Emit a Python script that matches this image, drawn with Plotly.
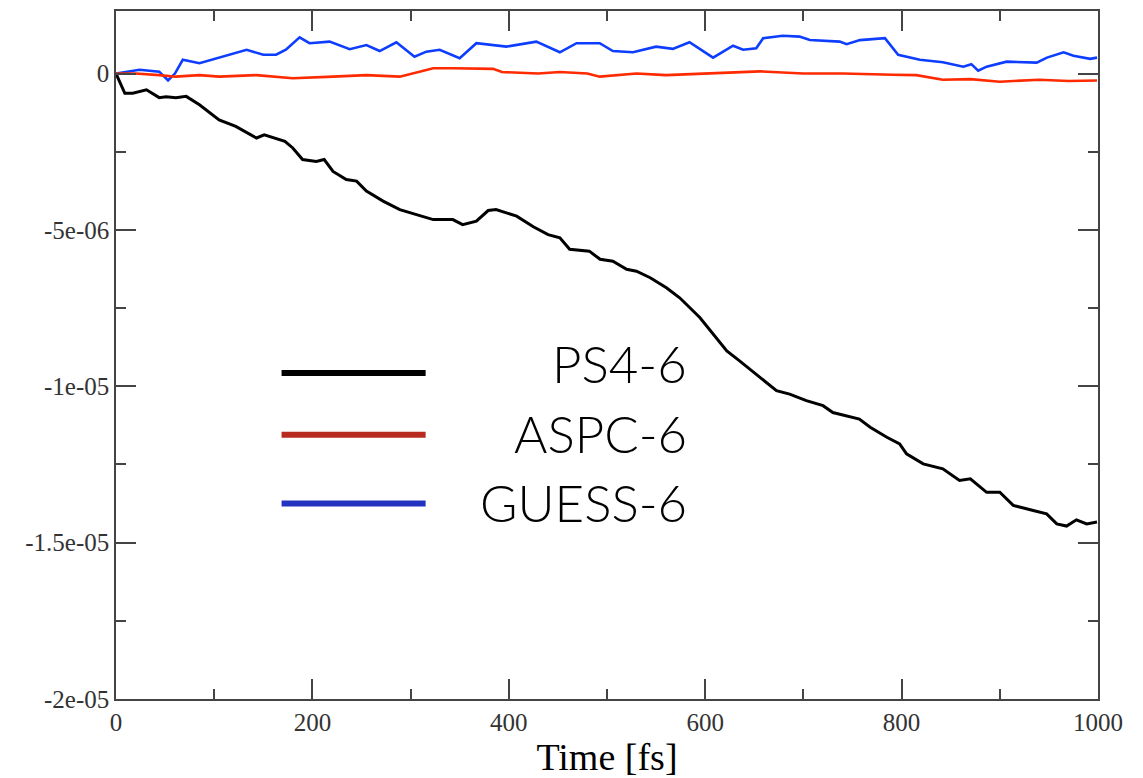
import plotly.graph_objects as go

# ---- data ----
ps4_x = [0, 9, 17, 31, 44, 51, 61, 71.5, 85, 105, 122, 143, 151, 172, 180, 190, 204, 212, 221,
         234.5, 245, 255, 272, 289, 306, 323, 343, 353, 367, 379, 387, 408, 425, 440, 452, 462,
         482, 493, 506, 520, 530, 544, 560.5, 574, 594.5, 608, 622, 635, 656, 672.6, 686, 703,
         720, 730, 757, 768, 785, 798, 805, 822, 842, 859, 870, 886.6, 900, 913.7, 934, 947.7,
         958, 968, 978, 988.5, 999]
ps4_y = [0.0, -6.3e-07, -6.3e-07, -5.2e-07, -7.7e-07, -7.4e-07, -7.7e-07, -7.3e-07, -1.0e-06,
         -1.48e-06, -1.69e-06, -2.06e-06, -1.96e-06, -2.17e-06, -2.38e-06, -2.75e-06, -2.81e-06,
         -2.75e-06, -3.13e-06, -3.39e-06, -3.44e-06, -3.76e-06, -4.08e-06, -4.35e-06, -4.51e-06,
         -4.67e-06, -4.67e-06, -4.83e-06, -4.72e-06, -4.38e-06, -4.35e-06, -4.56e-06, -4.9e-06,
         -5.15e-06, -5.25e-06, -5.62e-06, -5.68e-06, -5.94e-06, -6.0e-06, -6.26e-06, -6.32e-06,
         -6.53e-06, -6.85e-06, -7.17e-06, -7.8e-06, -8.34e-06, -8.87e-06, -9.19e-06, -9.72e-06,
         -1.014e-05, -1.025e-05, -1.046e-05, -1.062e-05, -1.084e-05, -1.105e-05, -1.131e-05,
         -1.163e-05, -1.184e-05, -1.216e-05, -1.248e-05, -1.264e-05, -1.301e-05, -1.296e-05,
         -1.339e-05, -1.339e-05, -1.381e-05, -1.397e-05, -1.408e-05, -1.440e-05, -1.447e-05,
         -1.427e-05, -1.440e-05, -1.434e-05]

aspc_x = [0, 20, 44, 61, 85, 105, 143, 180, 221, 255, 289, 323, 343, 357, 384, 393, 430, 452,
          480, 492.6, 530, 560, 597, 629, 655.8, 700, 740, 791, 815, 842, 870, 900, 940, 970, 999]
aspc_y = [0.0, 0.0, -5e-08, -1e-07, -5e-08, -1e-07, -5e-08, -1.5e-07, -1e-07, -5e-08, -1e-07,
          1.7e-07, 1.7e-07, 1.7e-07, 1.5e-07, 5e-08, 0.0, 5e-08, 0.0, -1.0e-07, 0.0, -5e-08,
          0.0, 5e-08, 7e-08, 0.0, 0.0, -4e-08, -5e-08, -2.0e-07, -1.8e-07, -2.6e-07, -2.0e-07,
          -2.4e-07, -2.2e-07]

guess_x = [0, 24, 44, 53, 60, 68, 85, 102, 133, 150, 163, 173, 187, 197, 217.5, 238, 255, 268.5,
           285.5, 304, 316, 329.6, 350, 367, 397.6, 428, 452, 469, 492.6, 506, 526.5, 550, 567,
           584, 608, 628.4, 638.6, 652, 659, 679, 696, 706.6, 737, 744, 757.6, 783, 796.5,
           818.6, 842, 862.8, 871, 878, 886.6, 907, 937.6, 948, 965, 975, 992, 999]
guess_y = [0.0, 1.2e-07, 6e-08, -2.2e-07, 0.0, 4.4e-07, 3.3e-07, 4.9e-07, 7.6e-07, 6.0e-07,
           6.0e-07, 7.6e-07, 1.16e-06, 9.7e-07, 1.02e-06, 7.8e-07, 9.1e-07, 7.2e-07, 1.0e-06,
           5.4e-07, 7.0e-07, 7.6e-07, 4.9e-07, 9.7e-07, 8.6e-07, 1.02e-06, 6.8e-07, 9.7e-07,
           9.7e-07, 7.2e-07, 6.8e-07, 8.6e-07, 7.9e-07, 1.0e-06, 5.1e-07, 8.9e-07, 7.6e-07,
           8.1e-07, 1.13e-06, 1.21e-06, 1.18e-06, 1.07e-06, 1.02e-06, 9.4e-07, 1.07e-06,
           1.13e-06, 6.0e-07, 4.4e-07, 3.6e-07, 2.2e-07, 3.0e-07, 9e-08, 2.2e-07, 3.8e-07,
           3.5e-07, 5.1e-07, 6.8e-07, 5.7e-07, 4.7e-07, 5.1e-07]

y_tickvals = [0, -5e-06, -1e-05, -1.5e-05, -2e-05]
y_ticktext = ["0", "-5e-06", "-1e-05", "-1.5e-05", "-2e-05"]
x_tickvals = [0, 200, 400, 600, 800, 1000]

legend_names = ["PS4-6", "ASPC-6", "GUESS-6"]
legend_colors = ["#000000", "#b82a1e", "#2233c0"]
line_colors = ["#000000", "#ff2a00", "#0d3dff"]

fig = go.Figure()
fig.add_trace(go.Scatter(x=guess_x, y=guess_y, mode="lines", name="GUESS-6",
                         line=dict(color=line_colors[2], width=2.6)))
fig.add_trace(go.Scatter(x=aspc_x, y=aspc_y, mode="lines", name="ASPC-6",
                         line=dict(color=line_colors[1], width=2.6)))
fig.add_trace(go.Scatter(x=ps4_x, y=ps4_y, mode="lines", name="PS4-6",
                         line=dict(color=line_colors[0], width=3)))

axis_common = dict(showline=True, mirror="allticks", linecolor="#444444", linewidth=1.5,
                   ticks="inside", ticklen=20, tickwidth=1.5, tickcolor="#444444",
                   showgrid=False, zeroline=False,
                   tickfont=dict(family="Liberation Serif", size=25, color="#333333"))

fig.update_xaxes(range=[0, 1000], tickvals=x_tickvals,
                 minor=dict(ticks="inside", ticklen=10, tickwidth=1.5, tickcolor="#444444",
                            dtick=100, tick0=0),
                 title=dict(text="Time [fs]", font=dict(family="Liberation Serif", size=38,
                                                         color="#000000"), standoff=9),
                 **axis_common)
fig.update_yaxes(range=[-2e-05, 2e-06], tickvals=y_tickvals, ticktext=y_ticktext,
                 minor=dict(ticks="inside", ticklen=10, tickwidth=1.5, tickcolor="#444444",
                            tickvals=[-2.5e-06, -7.5e-06, -1.25e-05, -1.75e-05]),
                 **axis_common)

# custom legend (lines + right-aligned labels)
leg_y = [0.4739, 0.384, 0.284]
txt_y = [0.487, 0.3855, 0.2855]
for name, col, ly, ty in zip(legend_names, legend_colors, leg_y, txt_y):
    fig.add_shape(type="line", xref="paper", yref="paper", x0=0.1686, x1=0.3153, y0=ly, y1=ly,
                  line=dict(color=col, width=6))
    fig.add_annotation(xref="paper", yref="paper", x=0.583, y=ty, text=name, showarrow=False,
                       xanchor="right", yanchor="middle",
                       font=dict(family="Lato", size=51, color="#000000", weight=300))

fig.update_layout(width=1143, height=778, plot_bgcolor="white", paper_bgcolor="white",
                  margin=dict(l=108, r=53, t=1, b=87), showlegend=False)

fig.write_html("out.html")
